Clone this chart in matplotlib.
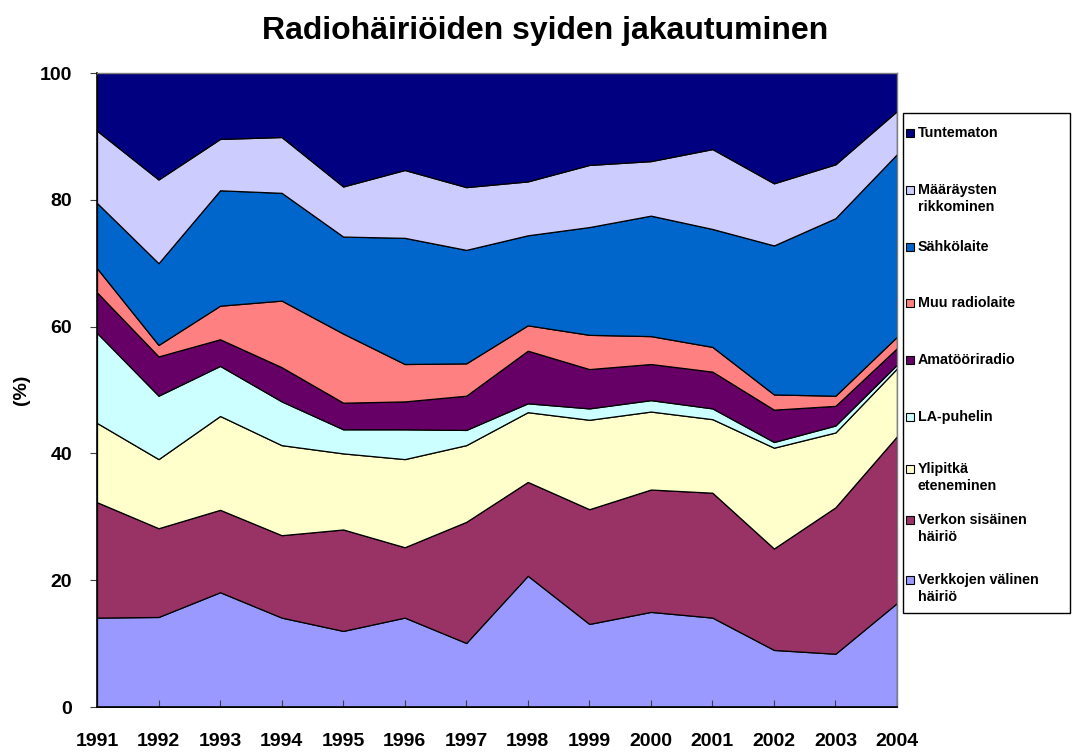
import matplotlib
matplotlib.use("Agg")
import matplotlib.pyplot as plt
from matplotlib.patches import Rectangle

plt.rcParams['font.family'] = ['Liberation Sans', 'DejaVu Sans']

years = [1991, 1992, 1993, 1994, 1995, 1996, 1997, 1998, 1999, 2000, 2001, 2002, 2003, 2004]

verkkojen_valinen = [14.1, 14.2, 18.1, 14.1, 12.0, 14.1, 10.1, 20.7, 13.1, 15.0, 14.1, 9.0, 8.4, 16.4]
verkon_sisainen = [18.2, 14.0, 13.0, 13.0, 16.0, 11.1, 19.1, 14.8, 18.1, 19.3, 19.7, 16.0, 23.1, 26.3]
ylipitka = [12.5, 10.9, 14.8, 14.2, 12.0, 13.9, 12.1, 11.0, 14.1, 12.3, 11.6, 15.9, 11.8, 10.7]
la_puhelin = [14.2, 10.0, 7.9, 6.9, 3.8, 4.7, 2.4, 1.4, 1.8, 1.8, 1.7, 0.9, 1.1, 0.6]
amatoori = [6.4, 6.2, 4.2, 5.4, 4.2, 4.4, 5.4, 8.3, 6.2, 5.7, 5.8, 5.1, 3.1, 2.6]
muu_radio = [3.8, 1.8, 5.3, 10.5, 10.9, 5.9, 5.1, 4.0, 5.4, 4.4, 3.9, 2.4, 1.6, 1.8]
sahkolaite = [10.3, 12.9, 18.2, 17.0, 15.3, 19.9, 17.9, 14.2, 17.0, 19.0, 18.6, 23.5, 28.0, 28.8]
maaraysten = [11.4, 13.2, 8.1, 8.8, 7.9, 10.7, 9.9, 8.5, 9.8, 8.6, 12.6, 9.8, 8.5, 6.8]
tuntematon = [9.1, 16.8, 10.4, 10.1, 17.9, 15.3, 18.0, 17.1, 14.5, 13.9, 12.0, 17.4, 14.4, 6.0]

series = [verkkojen_valinen, verkon_sisainen, ylipitka, la_puhelin, amatoori,
          muu_radio, sahkolaite, maaraysten, tuntematon]
labels = ["Verkkojen välinen\nhäiriö", "Verkon sisäinen\nhäiriö", "Ylipitkä\neteneminen",
          "LA-puhelin", "Amatööriradio", "Muu radiolaite", "Sähkölaite",
          "Määräysten\nrikkominen", "Tuntematon"]
colors = ["#9999FF", "#993366", "#FFFFCC", "#CCFFFF", "#660066",
          "#FF8080", "#0066CC", "#CCCCFF", "#000080"]

W, H = 1072, 755
fig = plt.figure(figsize=(W / 100, H / 100), dpi=100)
ax = fig.add_axes([97 / W, 1 - 707 / H, 800 / W, 634 / H])

ax.stackplot(years, *series, colors=colors, edgecolor="black", linewidth=0.9)

ax.set_xlim(1991, 2004)
ax.set_ylim(0, 100)
ax.set_xticks(years)
ax.set_xticklabels([str(y) for y in years], fontsize=14, fontweight="bold")
ax.set_yticks([0, 20, 40, 60, 80, 100])
ax.set_yticklabels(["0", "20", "40", "60", "80", "100"], fontsize=14, fontweight="bold")
ax.tick_params(axis="x", direction="in", length=5, pad=19, color="#404040")
ax.tick_params(axis="y", direction="out", length=5, pad=13, color="#404040")
for s in ["left", "bottom"]:
    ax.spines[s].set_color("black")
    ax.spines[s].set_linewidth(1.2)
for s in ["top", "right"]:
    ax.spines[s].set_color("#808080")
    ax.spines[s].set_linewidth(1.0)

ax.set_ylabel("(%)", fontsize=14, fontweight="bold")
ax.yaxis.set_label_coords(-0.084, 0.5)

fig.text(545 / W, 1 - 31 / H, "Radiohäiriöiden syiden jakautuminen", ha="center", va="center",
         fontsize=23, fontweight="bold")

# Legend (drawn manually to match layout)
fig.patches.append(Rectangle((903 / W, 1 - 613 / H), 167 / W, 500 / H, transform=fig.transFigure,
                             facecolor="white", edgecolor="black", linewidth=1.0))
legend_y = [133, 190, 247, 303, 360, 417, 469, 520, 580]
order = list(range(len(series)))[::-1]
for yy, i in zip(legend_y, order):
    fig.patches.append(Rectangle((906 / W, 1 - (yy + 4) / H), 8 / W, 8 / H, transform=fig.transFigure,
                                 facecolor=colors[i], edgecolor="black", linewidth=0.8))
    fig.text(918 / W, 1 - (yy - 7) / H, labels[i], ha="left", va="top", fontsize=10.3,
             fontweight="bold", linespacing=1.25)

fig.savefig("out.png", dpi=100)
